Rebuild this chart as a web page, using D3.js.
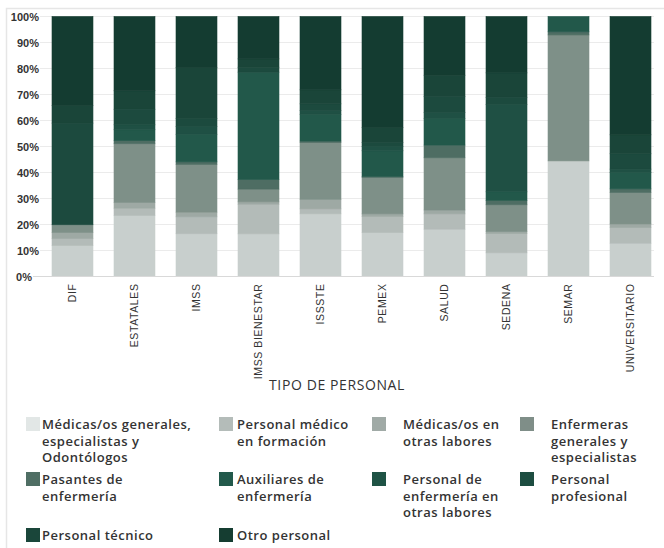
<!DOCTYPE html>
<html><head><meta charset="utf-8">
<script src="https://cdn.jsdelivr.net/npm/d3@7"></script>
<style>
body{margin:0;background:#fff;}
svg{font-family:"Open Sans","Noto Sans",sans-serif;display:block;}
</style></head><body>
<svg id="c" width="664" height="548"></svg>
<script>
const categories = ["DIF","ESTATALES","IMSS","IMSS BIENESTAR","ISSSTE","PEMEX","SALUD","SEDENA","SEMAR","UNIVERSITARIO"];
const medGen      = [11.9, 23.5, 16.4, 16.4, 24.1, 16.9, 18.2,  9.1, 44.5, 12.8];
const medForm     = [ 2.7,  2.8,  6.5, 11.4,  1.9,  6.2,  5.9,  7.4,  0.0,  6.0];
const medOtras    = [ 2.3,  2.2,  1.8,  0.9,  3.7,  1.0,  1.5,  0.8,  0.0,  1.4];
const enfGen      = [ 3.0, 22.6, 18.3,  4.9, 21.8, 14.0, 20.1, 10.3, 48.5, 12.1];
const pasantes    = [ 0.0,  1.2,  1.0,  3.7,  0.6,  0.4,  4.9,  1.7,  1.2,  1.4];
const auxiliares  = [ 0.0,  4.2, 10.6, 41.3, 10.3,  9.9, 10.3,  3.3,  5.9,  6.3];
const enfOtras    = [ 0.0,  1.9,  2.9,  0.0,  1.4,  1.7,  2.2, 33.6,  0.0,  1.3];
const profesional = [39.1,  6.0,  3.2,  1.9,  2.6,  1.5,  6.2,  2.8,  0.0,  5.9];
const tecnico     = [ 6.8,  7.1, 19.6,  3.2,  5.4,  5.8,  8.2,  9.4,  0.0,  7.3];
const otro        = [34.2, 28.6, 19.5, 16.3, 28.2, 42.7, 22.6, 21.7,  0.0, 45.5];
const seriesValues = [medGen, medForm, medOtras, enfGen, pasantes, auxiliares, enfOtras, profesional, tecnico, otro];
const seriesNames = ["Médicas/os generales, especialistas y Odontólogos","Personal médico en formación","Médicas/os en otras labores","Enfermeras generales y especialistas","Pasantes de enfermería","Auxiliares de enfermería","Personal de enfermería en otras labores","Personal profesional","Personal técnico","Otro personal"];
const legendLines = [
  ["Médicas/os generales,","especialistas y","Odontólogos"],
  ["Personal médico","en formación"],
  ["Médicas/os en","otras labores"],
  ["Enfermeras","generales y","especialistas"],
  ["Pasantes de","enfermería"],
  ["Auxiliares de","enfermería"],
  ["Personal de","enfermería en","otras labores"],
  ["Personal","profesional"],
  ["Personal técnico"],
  ["Otro personal"]
];
const yTicks = [0,0.1,0.2,0.3,0.4,0.5,0.6,0.7,0.8,0.9,1];
const axisTitle = "TIPO DE PERSONAL";

const barColors = ["#c8cfcd","#b3bbb8","#9ea9a4","#7e9088","#4e6d63","#22584a","#1f5044","#1c4a3e","#1a4539","#143c31"];
const legendColors = ["#e2e7e6","#b4bcb9","#a0aaa6","#7f8e88","#4f6e64","#22594b","#1f5345","#1d4d41","#1a463a","#153d31"];

const svg = d3.select("#c");
svg.append("rect").attr("x",6.5).attr("y",8.5).attr("width",720).attr("height",620)
  .attr("fill","none").attr("stroke","#e6e6e6").attr("stroke-width",1.5);

const y = d3.scaleLinear().domain([0,1]).range([276.5,16.5]);
const x = d3.scaleBand().domain(categories).range([52,651]).paddingInner(0.339).paddingOuter(0);

// grid
svg.append("g").selectAll("line").data(yTicks.filter(d=>d>0)).join("line")
  .attr("x1",40).attr("x2",654).attr("y1",d=>y(d)).attr("y2",d=>y(d))
  .attr("stroke","#ebebeb").attr("stroke-width",1);

// stacked bars
const rows = categories.map((c,i)=>{const r={cat:c}; seriesValues.forEach((s,k)=>r[k]=s[i]); return r;});
const stack = d3.stack().keys(d3.range(seriesValues.length)).offset(d3.stackOffsetExpand);
const stacked = stack(rows);
svg.append("g").selectAll("g").data(stacked).join("g")
  .attr("fill",(d,i)=>barColors[i]).attr("stroke",(d,i)=>barColors[i]).attr("stroke-width",0.6)
  .selectAll("rect").data(d=>d.filter(v=>v[1]-v[0]>0)).join("rect")
  .attr("x",d=>x(d.data.cat)).attr("width",x.bandwidth())
  .attr("y",d=>y(d[1])).attr("height",d=>Math.max(0,y(d[0])-y(d[1])));

// baseline
svg.append("line").attr("x1",33).attr("x2",654).attr("y1",y(0)).attr("y2",y(0))
  .attr("stroke","#d9d9d9").attr("stroke-width",1);

// y axis
const yAxis = svg.append("g").attr("transform","translate(40,0)")
  .call(d3.axisLeft(y).tickValues(yTicks).tickFormat(d3.format(".0%")).tickSize(0).tickPadding(1));
yAxis.select(".domain").remove();
yAxis.selectAll("text").attr("fill","#333").style("font-size","11px").style("font-weight","600")
  .attr("x",d=>d===0?-8:-1);

// x axis
const xAxis = svg.append("g").attr("transform",`translate(0,${y(0)})`)
  .call(d3.axisBottom(x).tickSize(0));
xAxis.select(".domain").remove();
xAxis.selectAll("text").attr("fill","#333").style("font-size","10.5px").style("font-weight","500")
  .style("letter-spacing","0.6px")
  .attr("transform","rotate(-90)").attr("x",-7).attr("y",0).attr("dy","0.35em").style("text-anchor","end");

svg.append("text").attr("x",337).attr("y",390).attr("text-anchor","middle")
  .attr("fill","#333").style("font-size","14px").style("font-weight","500").style("letter-spacing","0.6px").text(axisTitle);

// legend
const colSw = [26,219,372,520], colTx = [42,237,403,551];
const rowTop = [417,472,528];
const lg = svg.append("g").selectAll("g").data(seriesNames).join("g");
lg.append("rect").attr("x",(d,i)=>colSw[i%4]).attr("y",(d,i)=>rowTop[Math.floor(i/4)])
  .attr("width",14).attr("height",14).attr("fill",(d,i)=>legendColors[i]);
lg.append("text").attr("fill","#333").style("font-size","13px").style("font-weight","600")
  .style("letter-spacing","0.5px")
  .each(function(d,i){
    const t = d3.select(this);
    legendLines[i].forEach((ln,j)=>{
      t.append("tspan").attr("x",colTx[i%4]).attr("y",rowTop[Math.floor(i/4)]+12+j*16.5).text(ln);
    });
  });
</script>
</body></html>
